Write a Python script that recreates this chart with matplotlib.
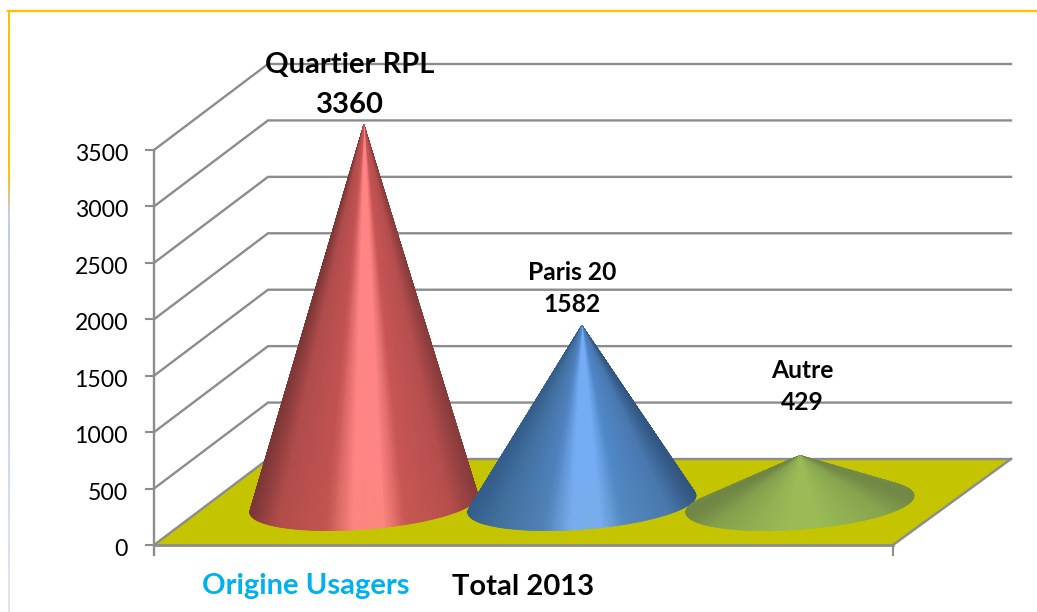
import numpy as np
import matplotlib
matplotlib.use("Agg")
import matplotlib.pyplot as plt
from matplotlib.collections import PolyCollection
from matplotlib.colors import LinearSegmentedColormap

categories = ["Quartier RPL", "Paris 20", "Autre"]
values = [3360, 1582, 429]
y_ticks = [0, 500, 1000, 1500, 2000, 2500, 3000, 3500]
x_title = "Origine Usagers"
x_label = "Total 2013"

W, H = 1037, 612
plt.rcParams["font.family"] = ["Lato", "DejaVu Sans"]
fig = plt.figure(figsize=(W / 100, H / 100), dpi=100, facecolor="white")
ax = fig.add_axes([0, 0, 1, 1])
V_PX = 395 / 3500
YMIN, YMAX = -(H - 545) / V_PX, 545 / V_PX
ax.axis("off")

X0, WIDTH = 154, 739
DX, DY = 114, 86


def proj(x, v, d):
    return x + DX * d, v + DY * d / V_PX


GRID = "#8c8c8c"
# page frame
ax.plot([8, W], [(545 - 10.5) / V_PX] * 2, color="#ffc000", lw=1.7, zorder=1)
ys = np.linspace(0, 1, 256)[:, None]
frame = LinearSegmentedColormap.from_list(
    "f", [(0, "#ffc000"), (0.27, "#ffc000"), (0.34, "#c0cfe8"), (0.65, "#c5d3ea"), (1, "#e0e7f4")], N=256)
ax.imshow(ys, cmap=frame, extent=[8, 10, YMIN, (545 - 10) / V_PX],
          origin="upper", aspect="auto", zorder=1, vmin=0, vmax=1, interpolation="bilinear")
ax.set_xlim(0, W)
ax.set_ylim(YMIN, YMAX)

# floor
fx = [proj(X0, 0, 0)[0], proj(X0 + WIDTH, 0, 0)[0], proj(X0 + WIDTH + 4, 0, 1)[0], proj(X0, 0, 1)[0]]
fy = [proj(0, 0, 0)[1], proj(0, 0, 0)[1], proj(0, 0, 1)[1], proj(0, 0, 1)[1]]
ax.fill(fx, fy, color="#c4c400", zorder=2, lw=0)

# walls and gridlines
for v in y_ticks:
    xa, ya = proj(X0, v, 0)
    xb, yb = proj(X0, v, 1)
    ax.plot([xa, xb, 1011], [ya, yb, yb], color=GRID, lw=1.7, zorder=3, solid_joinstyle="miter")
    ax.plot([xa - 8, xa], [ya, ya], color=GRID, lw=1.5, zorder=3)
    ax.text(128, v - 2.5 / V_PX, f"{v}", ha="right", va="center_baseline", fontsize=16.6, color="black", zorder=6)
ax.plot([X0, X0], [-10 / V_PX, 3500], color=GRID, lw=1.7, zorder=3)
ax.plot([X0, X0 + WIDTH], [0, 0], color=GRID, lw=2, zorder=3)
ax.plot([X0 + WIDTH, X0 + WIDTH], [-10 / V_PX, 0], color=GRID, lw=1.5, zorder=3)
ax.plot([X0 + WIDTH, fx[2]], [0, fy[2]], color=GRID, lw=1.7, zorder=3)

# cones
pos = [0, 0.12, 0.33, 0.45, 0.58, 0.68, 0.88, 1]
stops = [
    ["#7a3535", "#b04c4c", "#c25252", "#ff8585", "#ff8585", "#c85555", "#b54e4e", "#853a3a"],
    ["#335d8a", "#41709f", "#4f81bd", "#75adf5", "#75adf5", "#5088c8", "#4a78b0", "#30557f"],
    ["#6f8545", "#83a04d", "#93b355", "#9bbb59", "#9bbb59", "#93b355", "#86a34f", "#718746"],
]
CENTER_D = 0.477
A, B = 108.5, 0.31
FIRST = 309.5
STEP = 218
for i, (val, st) in enumerate(zip(values, stops)):
    cmap = LinearSegmentedColormap.from_list(f"c{i}", list(zip(pos, st)))
    cx = FIRST + i * STEP
    t = np.linspace(0, 2 * np.pi, 721)
    bx, by = proj(cx + A * np.cos(t), 0, CENTER_D + B * np.sin(t))
    apx, apy = proj(cx, val, CENTER_D)
    polys, cols, depth = [], [], []
    for j in range(len(t) - 1):
        polys.append([(apx, apy), (bx[j], by[j]), (bx[j + 1], by[j + 1])])
        u = (bx[j] - (apx - 115)) / 230
        cols.append(cmap(np.clip(u, 0, 1)))
        depth.append(by[j])
    order = np.argsort(depth)[::-1]
    pc = PolyCollection([polys[k] for k in order], facecolors=[cols[k] for k in order],
                        edgecolors=[cols[k] for k in order], linewidths=0.4, zorder=4 + i * 0.1)
    ax.add_collection(pc)

# labels
label_style = [(350, 65, 21, 40), (572, 272, 17.7, 33), (802, 371, 17.7, 31)]
for name, val, (x, y, fs, gap) in zip(categories, values, label_style):
    ax.text(x, (545 - y) / V_PX, name, ha="center", va="center", fontsize=fs, fontweight="bold", color="black", zorder=7)
    ax.text(x, (545 - y - gap) / V_PX, f"{val}", ha="center", va="center", fontsize=fs, fontweight="bold", color="black", zorder=7)

ax.text(305.5, -41 / V_PX, x_title, ha="center", va="center", fontsize=21, fontweight="bold", color="#00b0f0", zorder=7)
ax.text(523.5, -42 / V_PX, x_label, ha="center", va="center", fontsize=21, fontweight="bold", color="black", zorder=7)

fig.savefig("out.png", dpi=100, facecolor="white")
